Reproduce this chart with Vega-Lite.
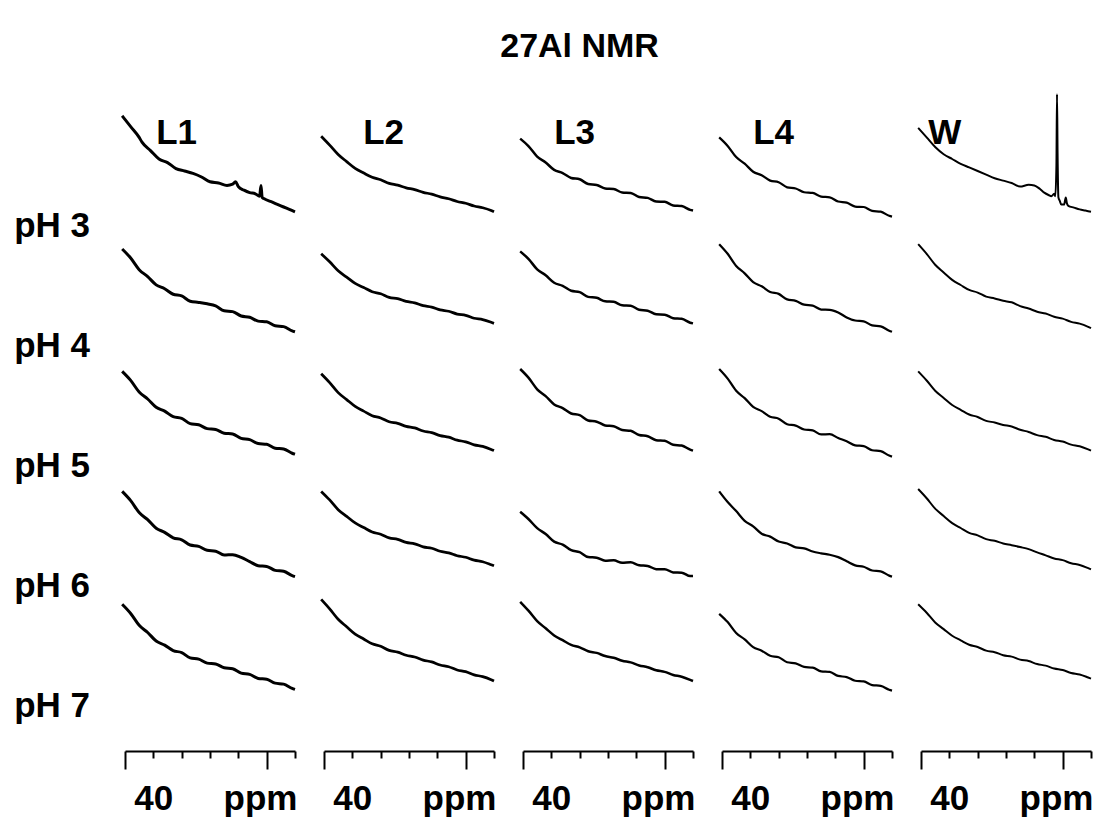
{
  "$schema": "https://vega.github.io/schema/vega-lite/v6.json",
  "padding": {"left": 14, "top": 30, "right": 5, "bottom": 5},
  "bounds": "flush",
  "title": {"text": "27Al NMR", "fontSize": 34, "font": "Liberation Sans", "fontWeight": "bold", "color": "black", "anchor": "middle", "dx": 25, "offset": 26},
  "config": {"font": "Liberation Sans", "view": {"stroke": null}},
  "datasets": {"spec": [
{"s":"L1","p":"pH 3","x":51,"y":101},{"s":"L1","p":"pH 3","x":48,"y":92},{"s":"L1","p":"pH 3","x":45,"y":83},{"s":"L1","p":"pH 3","x":44,"y":79},{"s":"L1","p":"pH 3","x":41,"y":72},{"s":"L1","p":"pH 3","x":38,"y":65},{"s":"L1","p":"pH 3","x":35,"y":62},{"s":"L1","p":"pH 3","x":32,"y":57},{"s":"L1","p":"pH 3","x":29,"y":55},{"s":"L1","p":"pH 3","x":26,"y":53},{"s":"L1","p":"pH 3","x":23,"y":50},{"s":"L1","p":"pH 3","x":20,"y":46},{"s":"L1","p":"pH 3","x":17,"y":45},{"s":"L1","p":"pH 3","x":14,"y":43},{"s":"L1","p":"pH 3","x":12,"y":44},{"s":"L1","p":"pH 3","x":11,"y":46},{"s":"L1","p":"pH 3","x":10,"y":42},{"s":"L1","p":"pH 3","x":8,"y":39},{"s":"L1","p":"pH 3","x":6,"y":37},{"s":"L1","p":"pH 3","x":4,"y":36},{"s":"L1","p":"pH 3","x":2.5,"y":34},{"s":"L1","p":"pH 3","x":2,"y":43},{"s":"L1","p":"pH 3","x":1.6,"y":33},{"s":"L1","p":"pH 3","x":1,"y":32},{"s":"L1","p":"pH 3","x":-2,"y":29},{"s":"L1","p":"pH 3","x":-4,"y":27},{"s":"L1","p":"pH 3","x":-6,"y":25},{"s":"L1","p":"pH 3","x":-8,"y":23},{"s":"L1","p":"pH 3","x":-10,"y":21},
{"s":"L2","p":"pH 3","x":51,"y":84},{"s":"L2","p":"pH 3","x":48,"y":76.6},{"s":"L2","p":"pH 3","x":45,"y":68.7},{"s":"L2","p":"pH 3","x":42,"y":62.8},{"s":"L2","p":"pH 3","x":39,"y":57.2},{"s":"L2","p":"pH 3","x":36,"y":53.3},{"s":"L2","p":"pH 3","x":33,"y":49.8},{"s":"L2","p":"pH 3","x":30,"y":47.7},{"s":"L2","p":"pH 3","x":27,"y":44.7},{"s":"L2","p":"pH 3","x":24,"y":43.2},{"s":"L2","p":"pH 3","x":21,"y":41},{"s":"L2","p":"pH 3","x":18,"y":39.5},{"s":"L2","p":"pH 3","x":15,"y":37.2},{"s":"L2","p":"pH 3","x":12,"y":35.7},{"s":"L2","p":"pH 3","x":9,"y":33.4},{"s":"L2","p":"pH 3","x":6,"y":31.9},{"s":"L2","p":"pH 3","x":3,"y":29.6},{"s":"L2","p":"pH 3","x":0,"y":28.1},{"s":"L2","p":"pH 3","x":-3,"y":25.8},{"s":"L2","p":"pH 3","x":-6,"y":24.4},{"s":"L2","p":"pH 3","x":-9,"y":22.1},{"s":"L2","p":"pH 3","x":-10,"y":21},
{"s":"L3","p":"pH 3","x":51,"y":82},{"s":"L3","p":"pH 3","x":48,"y":75.6},{"s":"L3","p":"pH 3","x":45,"y":67},{"s":"L3","p":"pH 3","x":42,"y":62.1},{"s":"L3","p":"pH 3","x":39,"y":55.9},{"s":"L3","p":"pH 3","x":36,"y":53.3},{"s":"L3","p":"pH 3","x":33,"y":49.2},{"s":"L3","p":"pH 3","x":30,"y":48.1},{"s":"L3","p":"pH 3","x":27,"y":44.1},{"s":"L3","p":"pH 3","x":24,"y":43.3},{"s":"L3","p":"pH 3","x":21,"y":40.4},{"s":"L3","p":"pH 3","x":18,"y":40},{"s":"L3","p":"pH 3","x":15,"y":37.1},{"s":"L3","p":"pH 3","x":12,"y":36.7},{"s":"L3","p":"pH 3","x":9,"y":33.4},{"s":"L3","p":"pH 3","x":6,"y":32.6},{"s":"L3","p":"pH 3","x":3,"y":29.6},{"s":"L3","p":"pH 3","x":0,"y":29.3},{"s":"L3","p":"pH 3","x":-3,"y":26.3},{"s":"L3","p":"pH 3","x":-6,"y":25.8},{"s":"L3","p":"pH 3","x":-9,"y":22.6},{"s":"L3","p":"pH 3","x":-10,"y":22},
{"s":"L4","p":"pH 3","x":51,"y":83},{"s":"L4","p":"pH 3","x":48,"y":75.9},{"s":"L4","p":"pH 3","x":45,"y":66.6},{"s":"L4","p":"pH 3","x":42,"y":61.1},{"s":"L4","p":"pH 3","x":39,"y":54.4},{"s":"L4","p":"pH 3","x":36,"y":51.4},{"s":"L4","p":"pH 3","x":33,"y":47},{"s":"L4","p":"pH 3","x":30,"y":45.6},{"s":"L4","p":"pH 3","x":27,"y":41.4},{"s":"L4","p":"pH 3","x":24,"y":40.4},{"s":"L4","p":"pH 3","x":21,"y":37.3},{"s":"L4","p":"pH 3","x":18,"y":36.7},{"s":"L4","p":"pH 3","x":15,"y":33.7},{"s":"L4","p":"pH 3","x":12,"y":33.1},{"s":"L4","p":"pH 3","x":9,"y":29.6},{"s":"L4","p":"pH 3","x":6,"y":28.6},{"s":"L4","p":"pH 3","x":3,"y":25.4},{"s":"L4","p":"pH 3","x":0,"y":25},{"s":"L4","p":"pH 3","x":-3,"y":21.8},{"s":"L4","p":"pH 3","x":-6,"y":21.1},{"s":"L4","p":"pH 3","x":-9,"y":17.7},{"s":"L4","p":"pH 3","x":-10,"y":17},
{"s":"W","p":"pH 3","x":51,"y":91},{"s":"W","p":"pH 3","x":48,"y":83},{"s":"W","p":"pH 3","x":45,"y":75},{"s":"W","p":"pH 3","x":42,"y":69},{"s":"W","p":"pH 3","x":39,"y":65},{"s":"W","p":"pH 3","x":36,"y":61},{"s":"W","p":"pH 3","x":33,"y":58},{"s":"W","p":"pH 3","x":30,"y":55},{"s":"W","p":"pH 3","x":27,"y":52},{"s":"W","p":"pH 3","x":24,"y":49},{"s":"W","p":"pH 3","x":21,"y":47},{"s":"W","p":"pH 3","x":18,"y":45},{"s":"W","p":"pH 3","x":15,"y":42},{"s":"W","p":"pH 3","x":12,"y":43.5},{"s":"W","p":"pH 3","x":10,"y":43},{"s":"W","p":"pH 3","x":8,"y":40},{"s":"W","p":"pH 3","x":6.5,"y":37},{"s":"W","p":"pH 3","x":5,"y":35},{"s":"W","p":"pH 3","x":4,"y":34},{"s":"W","p":"pH 3","x":3,"y":36},{"s":"W","p":"pH 3","x":2.6,"y":34},{"s":"W","p":"pH 3","x":2.2,"y":60},{"s":"W","p":"pH 3","x":2,"y":119},{"s":"W","p":"pH 3","x":1.8,"y":70},{"s":"W","p":"pH 3","x":1.5,"y":33},{"s":"W","p":"pH 3","x":1,"y":30},{"s":"W","p":"pH 3","x":0.5,"y":27},{"s":"W","p":"pH 3","x":-0.5,"y":27},{"s":"W","p":"pH 3","x":-1.1,"y":33},{"s":"W","p":"pH 3","x":-1.5,"y":28},{"s":"W","p":"pH 3","x":-2,"y":26},{"s":"W","p":"pH 3","x":-4,"y":24.5},{"s":"W","p":"pH 3","x":-6,"y":23},{"s":"W","p":"pH 3","x":-8,"y":22},{"s":"W","p":"pH 3","x":-10,"y":21},
{"s":"L1","p":"pH 4","x":51,"y":90},{"s":"L1","p":"pH 4","x":48,"y":82.5},{"s":"L1","p":"pH 4","x":45,"y":72.8},{"s":"L1","p":"pH 4","x":42,"y":67},{"s":"L1","p":"pH 4","x":39,"y":60.1},{"s":"L1","p":"pH 4","x":36,"y":56.9},{"s":"L1","p":"pH 4","x":33,"y":52.3},{"s":"L1","p":"pH 4","x":30,"y":50.9},{"s":"L1","p":"pH 4","x":27,"y":46.5},{"s":"L1","p":"pH 4","x":24,"y":45.5},{"s":"L1","p":"pH 4","x":21,"y":44.3},{"s":"L1","p":"pH 4","x":18,"y":42.6},{"s":"L1","p":"pH 4","x":15,"y":38.5},{"s":"L1","p":"pH 4","x":12,"y":37.8},{"s":"L1","p":"pH 4","x":9,"y":34.2},{"s":"L1","p":"pH 4","x":6,"y":33.1},{"s":"L1","p":"pH 4","x":3,"y":29.9},{"s":"L1","p":"pH 4","x":0,"y":29.3},{"s":"L1","p":"pH 4","x":-3,"y":26},{"s":"L1","p":"pH 4","x":-6,"y":25.3},{"s":"L1","p":"pH 4","x":-9,"y":21.8},{"s":"L1","p":"pH 4","x":-10,"y":21},
{"s":"L2","p":"pH 4","x":51,"y":86},{"s":"L2","p":"pH 4","x":48,"y":79.3},{"s":"L2","p":"pH 4","x":45,"y":71.8},{"s":"L2","p":"pH 4","x":42,"y":66.6},{"s":"L2","p":"pH 4","x":39,"y":61.3},{"s":"L2","p":"pH 4","x":36,"y":57.9},{"s":"L2","p":"pH 4","x":33,"y":54.4},{"s":"L2","p":"pH 4","x":30,"y":52.7},{"s":"L2","p":"pH 4","x":27,"y":49.7},{"s":"L2","p":"pH 4","x":24,"y":48.6},{"s":"L2","p":"pH 4","x":21,"y":46.3},{"s":"L2","p":"pH 4","x":18,"y":45.1},{"s":"L2","p":"pH 4","x":15,"y":42.8},{"s":"L2","p":"pH 4","x":12,"y":41.6},{"s":"L2","p":"pH 4","x":9,"y":39.3},{"s":"L2","p":"pH 4","x":6,"y":38.1},{"s":"L2","p":"pH 4","x":3,"y":35.8},{"s":"L2","p":"pH 4","x":0,"y":34.7},{"s":"L2","p":"pH 4","x":-3,"y":32.3},{"s":"L2","p":"pH 4","x":-6,"y":31.2},{"s":"L2","p":"pH 4","x":-9,"y":28.9},{"s":"L2","p":"pH 4","x":-10,"y":28},
{"s":"L3","p":"pH 4","x":51,"y":88},{"s":"L3","p":"pH 4","x":48,"y":81.6},{"s":"L3","p":"pH 4","x":45,"y":73},{"s":"L3","p":"pH 4","x":42,"y":68.1},{"s":"L3","p":"pH 4","x":39,"y":61.9},{"s":"L3","p":"pH 4","x":36,"y":59.3},{"s":"L3","p":"pH 4","x":33,"y":55.2},{"s":"L3","p":"pH 4","x":30,"y":54.1},{"s":"L3","p":"pH 4","x":27,"y":50.1},{"s":"L3","p":"pH 4","x":24,"y":49.3},{"s":"L3","p":"pH 4","x":21,"y":46.4},{"s":"L3","p":"pH 4","x":18,"y":46},{"s":"L3","p":"pH 4","x":15,"y":43.1},{"s":"L3","p":"pH 4","x":12,"y":42.7},{"s":"L3","p":"pH 4","x":9,"y":39.4},{"s":"L3","p":"pH 4","x":6,"y":38.6},{"s":"L3","p":"pH 4","x":3,"y":35.6},{"s":"L3","p":"pH 4","x":0,"y":35.3},{"s":"L3","p":"pH 4","x":-3,"y":32.3},{"s":"L3","p":"pH 4","x":-6,"y":31.8},{"s":"L3","p":"pH 4","x":-9,"y":28.6},{"s":"L3","p":"pH 4","x":-10,"y":28},
{"s":"L4","p":"pH 4","x":51,"y":94},{"s":"L4","p":"pH 4","x":48,"y":86},{"s":"L4","p":"pH 4","x":45,"y":75.9},{"s":"L4","p":"pH 4","x":42,"y":69.7},{"s":"L4","p":"pH 4","x":39,"y":62.4},{"s":"L4","p":"pH 4","x":36,"y":58.9},{"s":"L4","p":"pH 4","x":33,"y":54.2},{"s":"L4","p":"pH 4","x":30,"y":52.6},{"s":"L4","p":"pH 4","x":27,"y":48},{"s":"L4","p":"pH 4","x":24,"y":46.8},{"s":"L4","p":"pH 4","x":21,"y":43.6},{"s":"L4","p":"pH 4","x":18,"y":42.8},{"s":"L4","p":"pH 4","x":15,"y":39.5},{"s":"L4","p":"pH 4","x":12,"y":39.3},{"s":"L4","p":"pH 4","x":9,"y":37.1},{"s":"L4","p":"pH 4","x":6,"y":33},{"s":"L4","p":"pH 4","x":3,"y":30.4},{"s":"L4","p":"pH 4","x":0,"y":29.7},{"s":"L4","p":"pH 4","x":-3,"y":26.3},{"s":"L4","p":"pH 4","x":-6,"y":25.5},{"s":"L4","p":"pH 4","x":-9,"y":21.9},{"s":"L4","p":"pH 4","x":-10,"y":21},
{"s":"W","p":"pH 4","x":51,"y":94},{"s":"W","p":"pH 4","x":48,"y":85.9},{"s":"W","p":"pH 4","x":45,"y":76.9},{"s":"W","p":"pH 4","x":42,"y":70.5},{"s":"W","p":"pH 4","x":39,"y":64.3},{"s":"W","p":"pH 4","x":36,"y":60},{"s":"W","p":"pH 4","x":33,"y":55.9},{"s":"W","p":"pH 4","x":30,"y":53.7},{"s":"W","p":"pH 4","x":27,"y":50.3},{"s":"W","p":"pH 4","x":24,"y":48.8},{"s":"W","p":"pH 4","x":21,"y":46.8},{"s":"W","p":"pH 4","x":18,"y":45.6},{"s":"W","p":"pH 4","x":15,"y":42.4},{"s":"W","p":"pH 4","x":12,"y":40.4},{"s":"W","p":"pH 4","x":9,"y":37.7},{"s":"W","p":"pH 4","x":6,"y":36.2},{"s":"W","p":"pH 4","x":3,"y":33.5},{"s":"W","p":"pH 4","x":0,"y":32},{"s":"W","p":"pH 4","x":-3,"y":29.3},{"s":"W","p":"pH 4","x":-6,"y":27.8},{"s":"W","p":"pH 4","x":-9,"y":25.1},{"s":"W","p":"pH 4","x":-10,"y":24},
{"s":"L1","p":"pH 5","x":51,"y":88},{"s":"L1","p":"pH 5","x":48,"y":80.5},{"s":"L1","p":"pH 5","x":45,"y":70.8},{"s":"L1","p":"pH 5","x":42,"y":65},{"s":"L1","p":"pH 5","x":39,"y":58.1},{"s":"L1","p":"pH 5","x":36,"y":54.9},{"s":"L1","p":"pH 5","x":33,"y":50.3},{"s":"L1","p":"pH 5","x":30,"y":48.9},{"s":"L1","p":"pH 5","x":27,"y":44.5},{"s":"L1","p":"pH 5","x":24,"y":43.5},{"s":"L1","p":"pH 5","x":21,"y":40.3},{"s":"L1","p":"pH 5","x":18,"y":39.6},{"s":"L1","p":"pH 5","x":15,"y":36.5},{"s":"L1","p":"pH 5","x":12,"y":35.8},{"s":"L1","p":"pH 5","x":9,"y":32.2},{"s":"L1","p":"pH 5","x":6,"y":31.1},{"s":"L1","p":"pH 5","x":3,"y":27.9},{"s":"L1","p":"pH 5","x":0,"y":27.3},{"s":"L1","p":"pH 5","x":-3,"y":24},{"s":"L1","p":"pH 5","x":-6,"y":23.3},{"s":"L1","p":"pH 5","x":-9,"y":19.8},{"s":"L1","p":"pH 5","x":-10,"y":19},
{"s":"L2","p":"pH 5","x":51,"y":86},{"s":"L2","p":"pH 5","x":48,"y":78.6},{"s":"L2","p":"pH 5","x":45,"y":70.3},{"s":"L2","p":"pH 5","x":42,"y":64.5},{"s":"L2","p":"pH 5","x":39,"y":58.8},{"s":"L2","p":"pH 5","x":36,"y":54.9},{"s":"L2","p":"pH 5","x":33,"y":51.1},{"s":"L2","p":"pH 5","x":30,"y":49.2},{"s":"L2","p":"pH 5","x":27,"y":46},{"s":"L2","p":"pH 5","x":24,"y":44.7},{"s":"L2","p":"pH 5","x":21,"y":42.2},{"s":"L2","p":"pH 5","x":18,"y":40.9},{"s":"L2","p":"pH 5","x":15,"y":38.3},{"s":"L2","p":"pH 5","x":12,"y":37},{"s":"L2","p":"pH 5","x":9,"y":34.5},{"s":"L2","p":"pH 5","x":6,"y":33.2},{"s":"L2","p":"pH 5","x":3,"y":30.7},{"s":"L2","p":"pH 5","x":0,"y":29.3},{"s":"L2","p":"pH 5","x":-3,"y":26.8},{"s":"L2","p":"pH 5","x":-6,"y":25.5},{"s":"L2","p":"pH 5","x":-9,"y":23},{"s":"L2","p":"pH 5","x":-10,"y":22},
{"s":"L3","p":"pH 5","x":51,"y":90},{"s":"L3","p":"pH 5","x":48,"y":82.6},{"s":"L3","p":"pH 5","x":45,"y":73.1},{"s":"L3","p":"pH 5","x":42,"y":67.4},{"s":"L3","p":"pH 5","x":39,"y":60.5},{"s":"L3","p":"pH 5","x":36,"y":57.4},{"s":"L3","p":"pH 5","x":33,"y":52.9},{"s":"L3","p":"pH 5","x":30,"y":51.5},{"s":"L3","p":"pH 5","x":27,"y":47.1},{"s":"L3","p":"pH 5","x":24,"y":46.1},{"s":"L3","p":"pH 5","x":21,"y":43},{"s":"L3","p":"pH 5","x":18,"y":42.3},{"s":"L3","p":"pH 5","x":15,"y":39.2},{"s":"L3","p":"pH 5","x":12,"y":38.5},{"s":"L3","p":"pH 5","x":9,"y":35},{"s":"L3","p":"pH 5","x":6,"y":34},{"s":"L3","p":"pH 5","x":3,"y":30.7},{"s":"L3","p":"pH 5","x":0,"y":30.2},{"s":"L3","p":"pH 5","x":-3,"y":26.9},{"s":"L3","p":"pH 5","x":-6,"y":26.2},{"s":"L3","p":"pH 5","x":-9,"y":22.8},{"s":"L3","p":"pH 5","x":-10,"y":22},
{"s":"L4","p":"pH 5","x":51,"y":90},{"s":"L4","p":"pH 5","x":48,"y":82},{"s":"L4","p":"pH 5","x":45,"y":71.9},{"s":"L4","p":"pH 5","x":42,"y":65.7},{"s":"L4","p":"pH 5","x":39,"y":58.4},{"s":"L4","p":"pH 5","x":36,"y":54.9},{"s":"L4","p":"pH 5","x":33,"y":50.2},{"s":"L4","p":"pH 5","x":30,"y":48.6},{"s":"L4","p":"pH 5","x":27,"y":44},{"s":"L4","p":"pH 5","x":24,"y":42.8},{"s":"L4","p":"pH 5","x":21,"y":39.6},{"s":"L4","p":"pH 5","x":18,"y":38.8},{"s":"L4","p":"pH 5","x":15,"y":35.5},{"s":"L4","p":"pH 5","x":12,"y":35.7},{"s":"L4","p":"pH 5","x":9,"y":32.5},{"s":"L4","p":"pH 5","x":6,"y":29.8},{"s":"L4","p":"pH 5","x":3,"y":26.4},{"s":"L4","p":"pH 5","x":0,"y":25.7},{"s":"L4","p":"pH 5","x":-3,"y":22.3},{"s":"L4","p":"pH 5","x":-6,"y":21.5},{"s":"L4","p":"pH 5","x":-9,"y":17.9},{"s":"L4","p":"pH 5","x":-10,"y":17},
{"s":"W","p":"pH 5","x":51,"y":88},{"s":"W","p":"pH 5","x":48,"y":80.4},{"s":"W","p":"pH 5","x":45,"y":71.9},{"s":"W","p":"pH 5","x":42,"y":65.9},{"s":"W","p":"pH 5","x":39,"y":60},{"s":"W","p":"pH 5","x":36,"y":56},{"s":"W","p":"pH 5","x":33,"y":52.1},{"s":"W","p":"pH 5","x":30,"y":50},{"s":"W","p":"pH 5","x":27,"y":46.8},{"s":"W","p":"pH 5","x":24,"y":45.4},{"s":"W","p":"pH 5","x":21,"y":43.4},{"s":"W","p":"pH 5","x":18,"y":42.1},{"s":"W","p":"pH 5","x":15,"y":39.4},{"s":"W","p":"pH 5","x":12,"y":37.5},{"s":"W","p":"pH 5","x":9,"y":34.9},{"s":"W","p":"pH 5","x":6,"y":33.5},{"s":"W","p":"pH 5","x":3,"y":30.9},{"s":"W","p":"pH 5","x":0,"y":29.6},{"s":"W","p":"pH 5","x":-3,"y":27},{"s":"W","p":"pH 5","x":-6,"y":25.6},{"s":"W","p":"pH 5","x":-9,"y":23},{"s":"W","p":"pH 5","x":-10,"y":22},
{"s":"L1","p":"pH 6","x":51,"y":88},{"s":"L1","p":"pH 6","x":48,"y":80.3},{"s":"L1","p":"pH 6","x":45,"y":70.4},{"s":"L1","p":"pH 6","x":42,"y":64.4},{"s":"L1","p":"pH 6","x":39,"y":57.3},{"s":"L1","p":"pH 6","x":36,"y":53.9},{"s":"L1","p":"pH 6","x":33,"y":49.3},{"s":"L1","p":"pH 6","x":30,"y":47.7},{"s":"L1","p":"pH 6","x":27,"y":43.3},{"s":"L1","p":"pH 6","x":24,"y":42.2},{"s":"L1","p":"pH 6","x":21,"y":38.9},{"s":"L1","p":"pH 6","x":18,"y":38.2},{"s":"L1","p":"pH 6","x":15,"y":35},{"s":"L1","p":"pH 6","x":12,"y":35.3},{"s":"L1","p":"pH 6","x":9,"y":33},{"s":"L1","p":"pH 6","x":6,"y":29.5},{"s":"L1","p":"pH 6","x":3,"y":26.1},{"s":"L1","p":"pH 6","x":0,"y":25.5},{"s":"L1","p":"pH 6","x":-3,"y":22.2},{"s":"L1","p":"pH 6","x":-6,"y":21.4},{"s":"L1","p":"pH 6","x":-9,"y":17.8},{"s":"L1","p":"pH 6","x":-10,"y":17},
{"s":"L2","p":"pH 6","x":51,"y":88},{"s":"L2","p":"pH 6","x":48,"y":80.9},{"s":"L2","p":"pH 6","x":45,"y":72.8},{"s":"L2","p":"pH 6","x":42,"y":67.2},{"s":"L2","p":"pH 6","x":39,"y":61.7},{"s":"L2","p":"pH 6","x":36,"y":57.9},{"s":"L2","p":"pH 6","x":33,"y":54.2},{"s":"L2","p":"pH 6","x":30,"y":52.3},{"s":"L2","p":"pH 6","x":27,"y":49.3},{"s":"L2","p":"pH 6","x":24,"y":48},{"s":"L2","p":"pH 6","x":21,"y":45.5},{"s":"L2","p":"pH 6","x":18,"y":44.3},{"s":"L2","p":"pH 6","x":15,"y":41.8},{"s":"L2","p":"pH 6","x":12,"y":40.6},{"s":"L2","p":"pH 6","x":9,"y":38.1},{"s":"L2","p":"pH 6","x":6,"y":36.8},{"s":"L2","p":"pH 6","x":3,"y":34.4},{"s":"L2","p":"pH 6","x":0,"y":33.1},{"s":"L2","p":"pH 6","x":-3,"y":30.7},{"s":"L2","p":"pH 6","x":-6,"y":29.4},{"s":"L2","p":"pH 6","x":-9,"y":26.9},{"s":"L2","p":"pH 6","x":-10,"y":26},
{"s":"L3","p":"pH 6","x":51,"y":71},{"s":"L3","p":"pH 6","x":48,"y":64.8},{"s":"L3","p":"pH 6","x":45,"y":57.4},{"s":"L3","p":"pH 6","x":42,"y":52.5},{"s":"L3","p":"pH 6","x":39,"y":46.1},{"s":"L3","p":"pH 6","x":36,"y":43.7},{"s":"L3","p":"pH 6","x":33,"y":39.1},{"s":"L3","p":"pH 6","x":30,"y":37.4},{"s":"L3","p":"pH 6","x":27,"y":33.3},{"s":"L3","p":"pH 6","x":24,"y":32.8},{"s":"L3","p":"pH 6","x":21,"y":30.2},{"s":"L3","p":"pH 6","x":18,"y":30.6},{"s":"L3","p":"pH 6","x":15,"y":28.5},{"s":"L3","p":"pH 6","x":12,"y":28.9},{"s":"L3","p":"pH 6","x":9,"y":26.4},{"s":"L3","p":"pH 6","x":6,"y":25.9},{"s":"L3","p":"pH 6","x":3,"y":23.2},{"s":"L3","p":"pH 6","x":0,"y":23.2},{"s":"L3","p":"pH 6","x":-3,"y":20.5},{"s":"L3","p":"pH 6","x":-6,"y":20.3},{"s":"L3","p":"pH 6","x":-9,"y":17.4},{"s":"L3","p":"pH 6","x":-10,"y":17.5},
{"s":"L4","p":"pH 6","x":51,"y":88},{"s":"L4","p":"pH 6","x":48,"y":79.1},{"s":"L4","p":"pH 6","x":45,"y":71.6},{"s":"L4","p":"pH 6","x":42,"y":63.5},{"s":"L4","p":"pH 6","x":39,"y":58.9},{"s":"L4","p":"pH 6","x":36,"y":52.7},{"s":"L4","p":"pH 6","x":33,"y":50.3},{"s":"L4","p":"pH 6","x":30,"y":46.2},{"s":"L4","p":"pH 6","x":27,"y":44.6},{"s":"L4","p":"pH 6","x":24,"y":41.4},{"s":"L4","p":"pH 6","x":21,"y":40.5},{"s":"L4","p":"pH 6","x":18,"y":37.9},{"s":"L4","p":"pH 6","x":15,"y":36.4},{"s":"L4","p":"pH 6","x":12,"y":35.2},{"s":"L4","p":"pH 6","x":9,"y":33.2},{"s":"L4","p":"pH 6","x":6,"y":29.8},{"s":"L4","p":"pH 6","x":3,"y":26.4},{"s":"L4","p":"pH 6","x":0,"y":25.2},{"s":"L4","p":"pH 6","x":-3,"y":22.1},{"s":"L4","p":"pH 6","x":-6,"y":21.4},{"s":"L4","p":"pH 6","x":-9,"y":17.8},{"s":"L4","p":"pH 6","x":-10,"y":17},
{"s":"W","p":"pH 6","x":51,"y":90},{"s":"W","p":"pH 6","x":48,"y":82.3},{"s":"W","p":"pH 6","x":45,"y":73.6},{"s":"W","p":"pH 6","x":42,"y":67.5},{"s":"W","p":"pH 6","x":39,"y":61.6},{"s":"W","p":"pH 6","x":36,"y":57.5},{"s":"W","p":"pH 6","x":33,"y":53.5},{"s":"W","p":"pH 6","x":30,"y":51.4},{"s":"W","p":"pH 6","x":27,"y":48.2},{"s":"W","p":"pH 6","x":24,"y":46.8},{"s":"W","p":"pH 6","x":21,"y":44.6},{"s":"W","p":"pH 6","x":18,"y":43.2},{"s":"W","p":"pH 6","x":15,"y":41.6},{"s":"W","p":"pH 6","x":12,"y":39.9},{"s":"W","p":"pH 6","x":9,"y":37.2},{"s":"W","p":"pH 6","x":6,"y":34.7},{"s":"W","p":"pH 6","x":3,"y":32.1},{"s":"W","p":"pH 6","x":0,"y":30.7},{"s":"W","p":"pH 6","x":-3,"y":28.1},{"s":"W","p":"pH 6","x":-6,"y":26.7},{"s":"W","p":"pH 6","x":-9,"y":24},{"s":"W","p":"pH 6","x":-10,"y":23},
{"s":"L1","p":"pH 7","x":51,"y":94},{"s":"L1","p":"pH 7","x":48,"y":86.3},{"s":"L1","p":"pH 7","x":45,"y":76.4},{"s":"L1","p":"pH 7","x":42,"y":70.4},{"s":"L1","p":"pH 7","x":39,"y":63.3},{"s":"L1","p":"pH 7","x":36,"y":59.9},{"s":"L1","p":"pH 7","x":33,"y":55.3},{"s":"L1","p":"pH 7","x":30,"y":53.7},{"s":"L1","p":"pH 7","x":27,"y":49.3},{"s":"L1","p":"pH 7","x":24,"y":48.2},{"s":"L1","p":"pH 7","x":21,"y":44.9},{"s":"L1","p":"pH 7","x":18,"y":44.2},{"s":"L1","p":"pH 7","x":15,"y":41},{"s":"L1","p":"pH 7","x":12,"y":40.2},{"s":"L1","p":"pH 7","x":9,"y":36.6},{"s":"L1","p":"pH 7","x":6,"y":35.5},{"s":"L1","p":"pH 7","x":3,"y":32.1},{"s":"L1","p":"pH 7","x":0,"y":31.5},{"s":"L1","p":"pH 7","x":-3,"y":28.2},{"s":"L1","p":"pH 7","x":-6,"y":27.4},{"s":"L1","p":"pH 7","x":-9,"y":23.8},{"s":"L1","p":"pH 7","x":-10,"y":23},
{"s":"L2","p":"pH 7","x":51,"y":98},{"s":"L2","p":"pH 7","x":48,"y":90.1},{"s":"L2","p":"pH 7","x":45,"y":81.4},{"s":"L2","p":"pH 7","x":42,"y":75.2},{"s":"L2","p":"pH 7","x":39,"y":69.1},{"s":"L2","p":"pH 7","x":36,"y":65},{"s":"L2","p":"pH 7","x":33,"y":61},{"s":"L2","p":"pH 7","x":30,"y":58.9},{"s":"L2","p":"pH 7","x":27,"y":55.5},{"s":"L2","p":"pH 7","x":24,"y":54.1},{"s":"L2","p":"pH 7","x":21,"y":51.5},{"s":"L2","p":"pH 7","x":18,"y":50},{"s":"L2","p":"pH 7","x":15,"y":47.4},{"s":"L2","p":"pH 7","x":12,"y":45.9},{"s":"L2","p":"pH 7","x":9,"y":43.3},{"s":"L2","p":"pH 7","x":6,"y":41.9},{"s":"L2","p":"pH 7","x":3,"y":39.2},{"s":"L2","p":"pH 7","x":0,"y":37.8},{"s":"L2","p":"pH 7","x":-3,"y":35.1},{"s":"L2","p":"pH 7","x":-6,"y":33.7},{"s":"L2","p":"pH 7","x":-9,"y":31.1},{"s":"L2","p":"pH 7","x":-10,"y":30},
{"s":"L3","p":"pH 7","x":51,"y":96},{"s":"L3","p":"pH 7","x":48,"y":88.4},{"s":"L3","p":"pH 7","x":45,"y":79.9},{"s":"L3","p":"pH 7","x":42,"y":73.9},{"s":"L3","p":"pH 7","x":39,"y":68},{"s":"L3","p":"pH 7","x":36,"y":64},{"s":"L3","p":"pH 7","x":33,"y":60.1},{"s":"L3","p":"pH 7","x":30,"y":58},{"s":"L3","p":"pH 7","x":27,"y":54.8},{"s":"L3","p":"pH 7","x":24,"y":53.4},{"s":"L3","p":"pH 7","x":21,"y":50.8},{"s":"L3","p":"pH 7","x":18,"y":49.4},{"s":"L3","p":"pH 7","x":15,"y":46.9},{"s":"L3","p":"pH 7","x":12,"y":45.5},{"s":"L3","p":"pH 7","x":9,"y":42.9},{"s":"L3","p":"pH 7","x":6,"y":41.5},{"s":"L3","p":"pH 7","x":3,"y":38.9},{"s":"L3","p":"pH 7","x":0,"y":37.6},{"s":"L3","p":"pH 7","x":-3,"y":35},{"s":"L3","p":"pH 7","x":-6,"y":33.6},{"s":"L3","p":"pH 7","x":-9,"y":31},{"s":"L3","p":"pH 7","x":-10,"y":30},
{"s":"L4","p":"pH 7","x":51,"y":86},{"s":"L4","p":"pH 7","x":48,"y":79.1},{"s":"L4","p":"pH 7","x":45,"y":70},{"s":"L4","p":"pH 7","x":42,"y":64.7},{"s":"L4","p":"pH 7","x":39,"y":58.2},{"s":"L4","p":"pH 7","x":36,"y":55.3},{"s":"L4","p":"pH 7","x":33,"y":51},{"s":"L4","p":"pH 7","x":30,"y":49.8},{"s":"L4","p":"pH 7","x":27,"y":45.6},{"s":"L4","p":"pH 7","x":24,"y":44.7},{"s":"L4","p":"pH 7","x":21,"y":41.7},{"s":"L4","p":"pH 7","x":18,"y":41.2},{"s":"L4","p":"pH 7","x":15,"y":38.1},{"s":"L4","p":"pH 7","x":12,"y":37.6},{"s":"L4","p":"pH 7","x":9,"y":34.2},{"s":"L4","p":"pH 7","x":6,"y":33.3},{"s":"L4","p":"pH 7","x":3,"y":30.2},{"s":"L4","p":"pH 7","x":0,"y":29.7},{"s":"L4","p":"pH 7","x":-3,"y":26.6},{"s":"L4","p":"pH 7","x":-6,"y":26},{"s":"L4","p":"pH 7","x":-9,"y":22.7},{"s":"L4","p":"pH 7","x":-10,"y":22},
{"s":"W","p":"pH 7","x":51,"y":94},{"s":"W","p":"pH 7","x":48,"y":86.9},{"s":"W","p":"pH 7","x":45,"y":78.8},{"s":"W","p":"pH 7","x":42,"y":73.2},{"s":"W","p":"pH 7","x":39,"y":67.7},{"s":"W","p":"pH 7","x":36,"y":63.9},{"s":"W","p":"pH 7","x":33,"y":60.2},{"s":"W","p":"pH 7","x":30,"y":58.3},{"s":"W","p":"pH 7","x":27,"y":55.3},{"s":"W","p":"pH 7","x":24,"y":54},{"s":"W","p":"pH 7","x":21,"y":51.5},{"s":"W","p":"pH 7","x":18,"y":50.3},{"s":"W","p":"pH 7","x":15,"y":47.8},{"s":"W","p":"pH 7","x":12,"y":46.6},{"s":"W","p":"pH 7","x":9,"y":44.1},{"s":"W","p":"pH 7","x":6,"y":42.8},{"s":"W","p":"pH 7","x":3,"y":40.4},{"s":"W","p":"pH 7","x":0,"y":39.1},{"s":"W","p":"pH 7","x":-3,"y":36.7},{"s":"W","p":"pH 7","x":-6,"y":35.4},{"s":"W","p":"pH 7","x":-9,"y":32.9},{"s":"W","p":"pH 7","x":-10,"y":32}
  ]},
  "data": {"name": "spec"},
  "spacing": {"row": 0, "column": 29},
  "facet": {
    "row": {"field": "p", "type": "nominal", "sort": ["pH 3", "pH 4", "pH 5", "pH 6", "pH 7"],
      "header": {"title": null, "labelAngle": 0, "labelOrient": "left", "labelAnchor": "start", "labelAlign": "left", "labelBaseline": "alphabetic", "labelPadding": 35, "labelFontSize": 35, "labelFontWeight": "bold", "labelFont": "Liberation Sans", "labelColor": "black"}},
    "column": {"field": "s", "type": "nominal", "sort": ["L1", "L2", "L3", "L4", "W"], "header": {"title": null, "labels": false}}
  },
  "spec": {
    "width": 170,
    "height": 120,
    "layer": [
      {
        "mark": {"type": "line", "color": "black", "interpolate": "monotone", "clip": false},
        "encoding": {
          "x": {"field": "x", "type": "quantitative",
            "scale": {"domain": [-10, 50], "reverse": true, "nice": false, "zero": false},
            "axis": {"values": [50, 40, 30, 20, 10, 0, -10], "offset": 34, "grid": false,
              "labelExpr": "datum.value === 40 ? '40' : ''", "labelOverlap": false, "labelFlush": false, "labelBound": false,
              "labelFontSize": 35, "labelFontWeight": "bold", "labelFont": "Liberation Sans", "labelColor": "black", "labelPadding": 23, "labelBaseline": "top",
              "domainColor": "black", "domainWidth": 2, "tickColor": "black", "tickWidth": 2,
              "tickSize": {"expr": "datum.value == 0 || datum.value == 50 ? 18 : 7"},
              "title": "ppm", "titleFontSize": 35, "titleFontWeight": "bold", "titleFont": "Liberation Sans", "titleColor": "black",
              "titleAnchor": "end", "titleAlign": "right", "titleBaseline": "alphabetic", "titleX": 172, "titleY": 58}},
          "y": {"field": "y", "type": "quantitative", "scale": {"domain": [0, 100], "nice": false, "zero": false}, "axis": null},
          "strokeWidth": {"field": "s", "type": "nominal", "scale": {"domain": ["L1", "L2", "L3", "L4", "W"], "range": [3, 2, 2.8, 3, 2]}, "legend": null}
        }
      },
      {
        "transform": [{"filter": "datum.p == 'pH 3' && datum.x == 51"}],
        "mark": {"type": "text", "align": "left", "baseline": "alphabetic", "fontSize": 35, "fontWeight": "bold", "font": "Liberation Sans", "color": "black",
          "dx": {"expr": "datum.s == 'W' ? -24 : (datum.s == 'L2' ? 8 : 0)"}},
        "encoding": {
          "x": {"datum": 39, "type": "quantitative",
            "axis": {"values": [50, 40, 30, 20, 10, 0, -10], "offset": 34, "grid": false,
              "labelExpr": "datum.value === 40 ? '40' : ''", "labelOverlap": false, "labelFlush": false, "labelBound": false,
              "labelFontSize": 35, "labelFontWeight": "bold", "labelFont": "Liberation Sans", "labelColor": "black", "labelPadding": 23, "labelBaseline": "top",
              "domainColor": "black", "domainWidth": 2, "tickColor": "black", "tickWidth": 2,
              "tickSize": {"expr": "datum.value == 0 || datum.value == 50 ? 18 : 7"},
              "title": "ppm", "titleFontSize": 35, "titleFontWeight": "bold", "titleFont": "Liberation Sans", "titleColor": "black",
              "titleAnchor": "end", "titleAlign": "right", "titleBaseline": "alphabetic", "titleX": 172, "titleY": 58}},
          "y": {"datum": 77.5, "type": "quantitative"},
          "text": {"field": "s"}
        }
      }
    ]
  }
}
